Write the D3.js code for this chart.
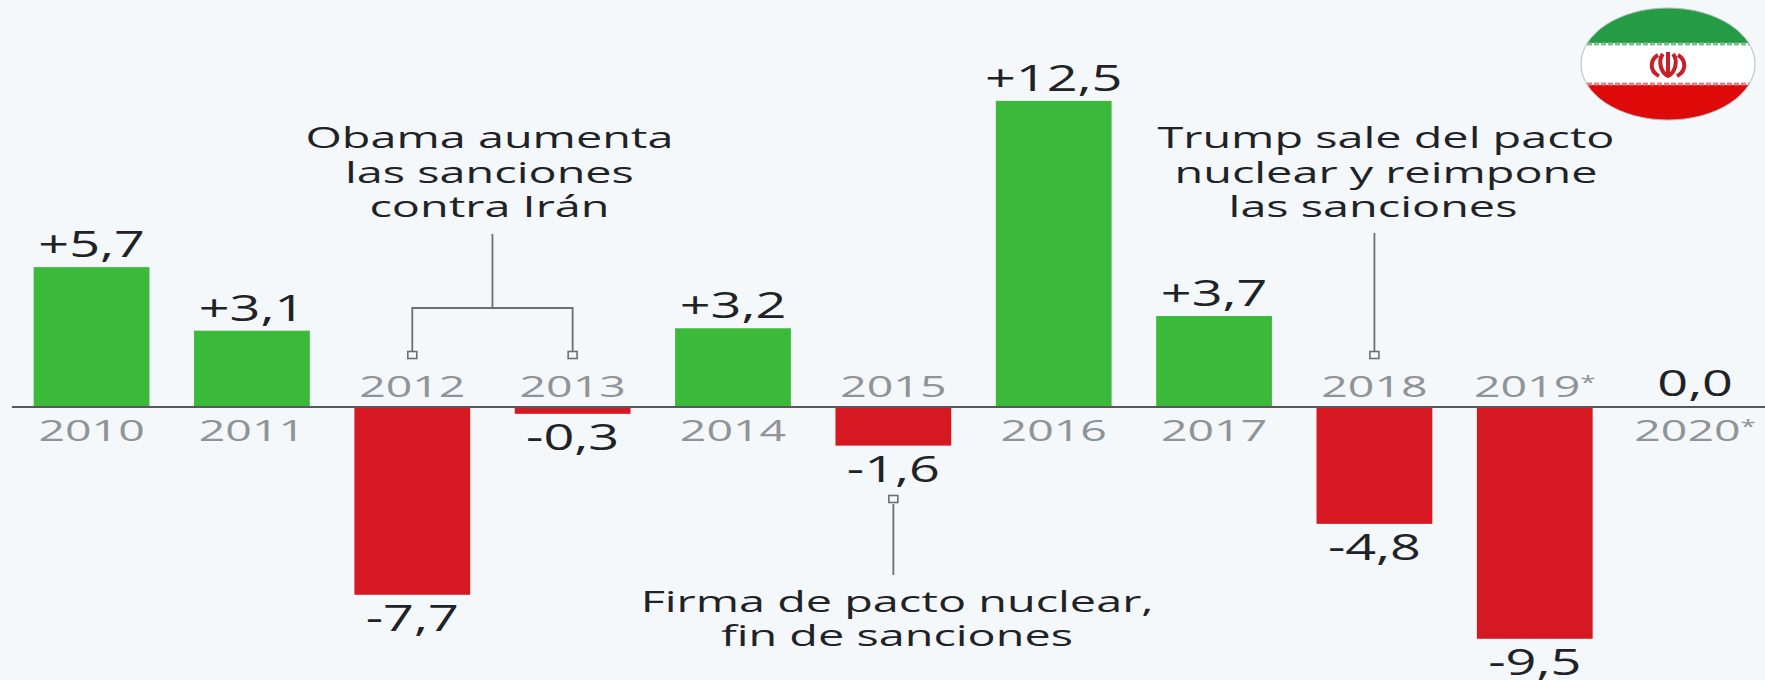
<!DOCTYPE html>
<html>
<head>
<meta charset="utf-8">
<script src="https://cdn.jsdelivr.net/npm/d3@7"></script>
<style>
 html, body { margin: 0; padding: 0; background: #f5f8fb; overflow: hidden; }
 svg { display: block; font-family: "Open Sans", sans-serif; }
</style>
</head>
<body>
<div id="chart"></div>
<script>
 var years = ['2010', '2011', '2012', '2013', '2014', '2015', '2016', '2017', '2018', '2019*', '2020*'];
 var growth = [5.7, 3.1, -7.7, -0.3, 3.2, -1.6, 12.5, 3.7, -4.8, -9.5, 0.0];

 var note_obama = ['Obama aumenta', 'las sanciones', 'contra Irán'];
 var note_trump = ['Trump sale del pacto', 'nuclear y reimpone', 'las sanciones'];
 var note_firma = ['Firma de pacto nuclear,', 'fin de sanciones'];

 var pic_width = 1765,
     pic_height = 680,
     green = '#3bb93b',
     red = '#d61822',
     tick_color = '#8f9498',
     text_color = '#1f2326',
     line_color = '#6b6f73';

 // the picture is stretched sideways, so text gets a horizontal scale
 var stretch = 1.55;

 var svg = d3.select('#chart').append('svg')
     .attr('width', pic_width)
     .attr('height', pic_height);

 svg.append('rect')
     .attr('width', pic_width)
     .attr('height', pic_height)
     .attr('fill', '#f5f8fb');

 var xScale = d3.scaleBand()
     .domain(years)
     .range([11.4, 1775.3])
     .paddingInner(0.278)
     .paddingOuter(0.139);

 // about 24.45px per percentage point, zero line at 406.5
 var yScale = d3.scaleLinear()
     .domain([-10, 13])
     .range([651, 88.65]);

 function center(year) {
     return xScale(year) + xScale.bandwidth() / 2;
 }

 function formatValue(v) {
     var s = Math.abs(v).toFixed(1).replace('.', ',');
     if (v > 0) return '+' + s;
     if (v < 0) return '-' + s;
     return s;
 }

 function stretched(x, y, sx) {
     return 'translate(' + x + ',' + y + ') scale(' + sx + ',1)';
 }

 // bars
 svg.append('g').selectAll('rect').data(growth)
     .enter().append('rect')
     .attr('x', function(d, i) { return xScale(years[i]); })
     .attr('width', xScale.bandwidth())
     .attr('y', function(d) { return yScale(Math.max(d, 0)); })
     .attr('height', function(d) { return Math.abs(yScale(d) - yScale(0)); })
     .attr('fill', function(d) { return d > 0 ? green : red; });

 // axis at zero, year labels go on the side away from the bar
 var axis = svg.append('g')
     .attr('transform', 'translate(0,' + yScale(0) + ')')
     .call(d3.axisBottom(xScale).tickSize(0).tickSizeOuter(0));

 axis.select('.domain')
     .attr('stroke', '#55595c')
     .attr('stroke-width', 2);

 axis.selectAll('.tick text')
     .attr('dy', null)
     .attr('y', null)
     .attr('font-family', '"Open Sans", sans-serif')
     .attr('font-size', 30)
     .attr('fill', tick_color)
     .attr('text-anchor', 'middle')
     .attr('transform', function(d) {
         var v = growth[years.indexOf(d)];
         return stretched(0, v < 0 ? -10 : 34.5, stretch);
     });

 // small raised star on the estimated years
 axis.selectAll('.tick text').each(function(d) {
     if (d.indexOf('*') < 0) return;
     var t = d3.select(this).text(d.replace('*', ''));
     t.append('tspan')
         .attr('font-size', 18)
         .attr('dy', -8)
         .text('*');
 });

 // value labels
 svg.append('g').selectAll('text').data(growth)
     .enter().append('text')
     .attr('text-anchor', 'middle')
     .attr('font-size', 36)
     .attr('fill', text_color)
     .attr('transform', function(d, i) {
         var y = d > 0 ? yScale(d) - 10 : d < 0 ? yScale(d) + 36 : yScale(0) - 11;
         return stretched(center(years[i]), y, 1.5);
     })
     .text(formatValue);

 // annotations
 function leader(points) {
     svg.append('path')
         .attr('d', d3.line()(points))
         .attr('fill', 'none')
         .attr('stroke', line_color)
         .attr('stroke-width', 1.8);
 }

 function marker(x, y) {
     svg.append('rect')
         .attr('x', x - 4.5)
         .attr('y', y - 3.5)
         .attr('width', 9)
         .attr('height', 7)
         .attr('fill', 'none')
         .attr('stroke', line_color)
         .attr('stroke-width', 1.6);
 }

 // last_shift: the last line of the Trump note sits left of the others
 function note(lines, x, y, gap, last_shift) {
     svg.append('g').selectAll('text').data(lines)
         .enter().append('text')
         .attr('text-anchor', 'middle')
         .attr('font-size', 30)
         .attr('fill', text_color)
         .attr('transform', function(d, i) {
             var shift = (i === lines.length - 1 && last_shift) ? last_shift : 0;
             return stretched(x + shift, y + i * gap, 1.56);
         })
         .text(function(d) { return d; });
 }

 var x12 = center('2012'),
     x13 = center('2013'),
     x15 = center('2015'),
     x18 = center('2018'),
     xMid = (x12 + x13) / 2;

 note(note_obama, xMid - 3, 148, 34.5);
 leader([[xMid, 234], [xMid, 308]]);
 leader([[x12, 351], [x12, 308], [x13, 308], [x13, 351]]);
 marker(x12, 355);
 marker(x13, 355);

 note(note_trump, 1386, 148, 34.5, -13);
 leader([[x18, 233], [x18, 351]]);
 marker(x18, 355);

 note(note_firma, 897, 612, 33.5);
 leader([[x15, 504], [x15, 575]]);
 marker(x15, 499);

 // flag badge
 var flag = svg.append('g');
 var defs = svg.append('defs');
 defs.append('clipPath').attr('id', 'flag-clip')
     .append('ellipse')
     .attr('cx', 1668).attr('cy', 64).attr('rx', 87).attr('ry', 56);

 var stripes = flag.append('g').attr('clip-path', 'url(#flag-clip)');
 stripes.append('rect').attr('x', 1580).attr('y', 8).attr('width', 176).attr('height', 35).attr('fill', '#249c45');
 stripes.append('rect').attr('x', 1580).attr('y', 43).attr('width', 176).attr('height', 42).attr('fill', '#ffffff');
 stripes.append('rect').attr('x', 1580).attr('y', 85).attr('width', 176).attr('height', 35).attr('fill', '#de0a0a');
 stripes.append('line').attr('x1', 1580).attr('x2', 1756).attr('y1', 44).attr('y2', 44)
     .attr('stroke', '#7fbf8f').attr('stroke-width', 3).attr('stroke-dasharray', '5 2');
 stripes.append('line').attr('x1', 1580).attr('x2', 1756).attr('y1', 84).attr('y2', 84)
     .attr('stroke', '#e88080').attr('stroke-width', 3).attr('stroke-dasharray', '5 2');

 flag.append('ellipse')
     .attr('cx', 1668).attr('cy', 64).attr('rx', 87).attr('ry', 56)
     .attr('fill', 'none').attr('stroke', '#b9bcbf').attr('stroke-width', 1);

 // emblem
 flag.append('path')
     .attr('d', 'M1668 52V77 M1663 54C1658 60 1660 72 1668 76C1676 72 1678 60 1673 54 M1658 55C1650 60 1649 71 1659 76 M1678 55C1686 60 1687 71 1677 76')
     .attr('fill', 'none')
     .attr('stroke', '#c8202a')
     .attr('stroke-width', 4);
</script>
</body>
</html>
